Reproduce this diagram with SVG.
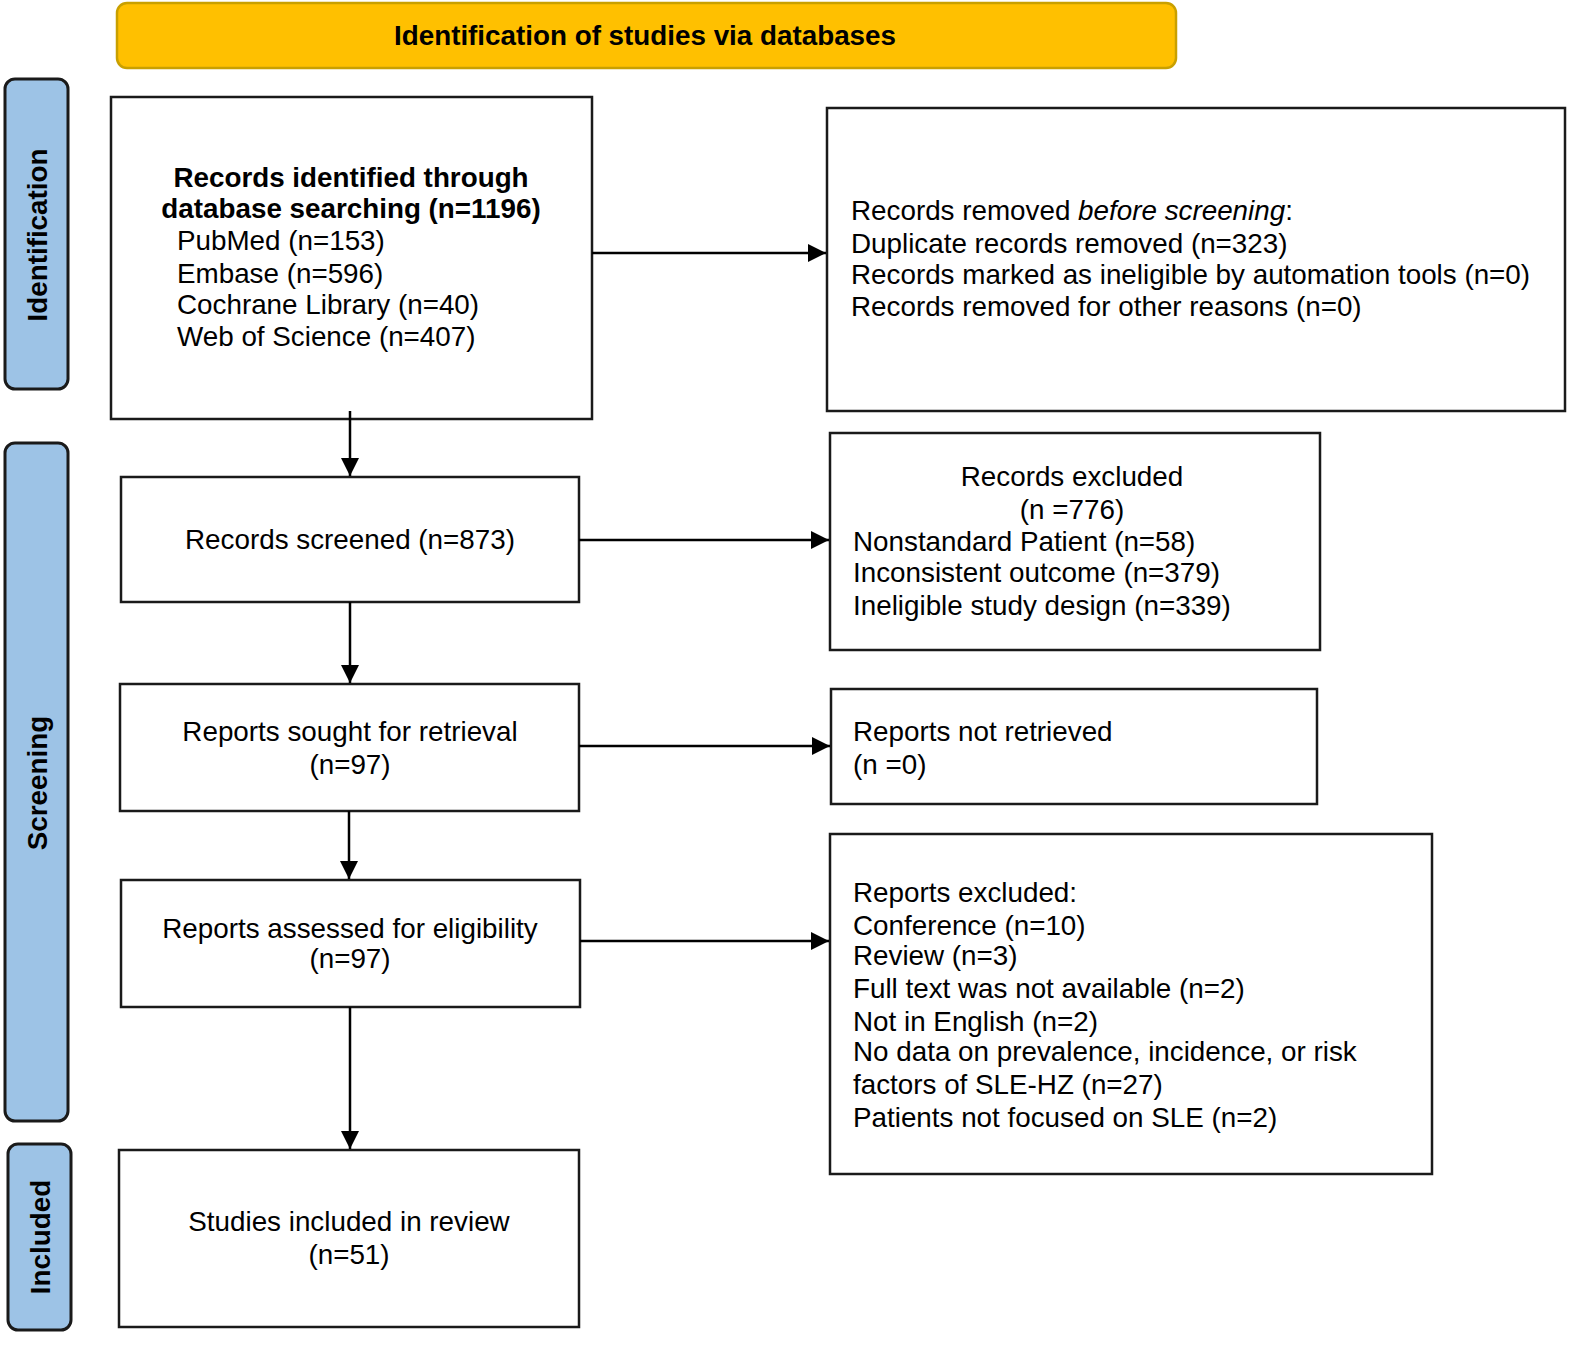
<svg xmlns="http://www.w3.org/2000/svg" width="1594" height="1356" viewBox="0 0 1594 1356">
<defs>
<marker id="arr" viewBox="0 0 10 10" refX="10" refY="5" markerWidth="18" markerHeight="18" markerUnits="userSpaceOnUse" orient="auto">
<path d="M0,0 L10,5 L0,10 z" fill="#000"/>
</marker>
</defs>
<style>
text{font-family:"Liberation Sans",Arial,sans-serif;fill:#000;font-size:27.8px}
.b{font-weight:bold}
.c{text-anchor:middle}
.box{fill:#fff;stroke:#1a1a1a;stroke-width:2.5}
.side{fill:#9DC3E6;stroke:#1a1a1a;stroke-width:3}
.con{stroke:#000;stroke-width:2.5;fill:none;marker-end:url(#arr)}
</style>
<rect width="1594" height="1356" fill="#fff"/>
<g id="header">
<rect x="117" y="3" width="1059" height="65" rx="10" fill="#FFC000" stroke="#C9A000" stroke-width="2.5"/>
<text class="b c" x="645" y="45" font-size="26.5">Identification of studies via databases</text>
</g>
<g id="side-identification">
<rect class="side" x="5" y="79" width="63" height="310" rx="10"/>
<text class="b c" transform="translate(47,235) rotate(-90)" font-size="29">Identification</text>
</g>
<g id="side-screening">
<rect class="side" x="5" y="443" width="63" height="678" rx="10"/>
<text class="b c" transform="translate(47,783) rotate(-90)" font-size="29">Screening</text>
</g>
<g id="side-included">
<rect class="side" x="8" y="1144" width="63" height="186" rx="10"/>
<text class="b c" transform="translate(50,1237) rotate(-90)" font-size="29">Included</text>
</g>
<g id="n-identified">
<rect class="box" x="111" y="97" width="481" height="322"/>
<text class="b c" x="351" y="187">Records identified through</text>
<text class="b c" x="351" y="218">database searching (n=1196)</text>
<text x="177" y="250">PubMed (n=153)</text>
<text x="177" y="283">Embase (n=596)</text>
<text x="177" y="314">Cochrane Library (n=40)</text>
<text x="177" y="346">Web of Science (n=407)</text>
</g>
<g id="n-removed">
<rect class="box" x="827" y="108" width="738" height="303"/>
<text x="851" y="220">Records removed <tspan font-style="italic">before screening</tspan>:</text>
<text x="851" y="253">Duplicate records removed (n=323)</text>
<text x="851" y="284">Records marked as ineligible by automation tools (n=0)</text>
<text x="851" y="316">Records removed for other reasons (n=0)</text>
</g>
<g id="n-screened">
<rect class="box" x="121" y="477" width="458" height="125"/>
<text class="c" x="350" y="549">Records screened (n=873)</text>
</g>
<g id="n-excluded">
<rect class="box" x="830" y="433" width="490" height="217"/>
<text class="c" x="1072" y="486">Records excluded</text>
<text class="c" x="1072" y="519">(n =776)</text>
<text x="853" y="551">Nonstandard Patient (n=58)</text>
<text x="853" y="582">Inconsistent outcome (n=379)</text>
<text x="853" y="615">Ineligible study design (n=339)</text>
</g>
<g id="n-sought">
<rect class="box" x="120" y="684" width="459" height="127"/>
<text class="c" x="350" y="741">Reports sought for retrieval</text>
<text class="c" x="350" y="774">(n=97)</text>
</g>
<g id="n-notretrieved">
<rect class="box" x="831" y="689" width="486" height="115"/>
<text x="853" y="741">Reports not retrieved</text>
<text x="853" y="774">(n =0)</text>
</g>
<g id="n-assessed">
<rect class="box" x="121" y="880" width="459" height="127"/>
<text class="c" x="350" y="938">Reports assessed for eligibility</text>
<text class="c" x="350" y="968">(n=97)</text>
</g>
<g id="n-reportsexcluded">
<rect class="box" x="830" y="834" width="602" height="340"/>
<text x="853" y="902">Reports excluded:</text>
<text x="853" y="935">Conference (n=10)</text>
<text x="853" y="965">Review (n=3)</text>
<text x="853" y="998">Full text was not available (n=2)</text>
<text x="853" y="1031">Not in English (n=2)</text>
<text x="853" y="1061">No data on prevalence, incidence, or risk</text>
<text x="853" y="1094">factors of SLE-HZ (n=27)</text>
<text x="853" y="1127">Patients not focused on SLE (n=2)</text>
</g>
<g id="n-included">
<rect class="box" x="119" y="1150" width="460" height="177"/>
<text class="c" x="349" y="1231">Studies included in review</text>
<text class="c" x="349" y="1264">(n=51)</text>
</g>
<g id="connectors">
<line class="con" x1="350" y1="411" x2="350" y2="476"/>
<line class="con" x1="350" y1="602" x2="350" y2="683"/>
<line class="con" x1="349" y1="811" x2="349" y2="879"/>
<line class="con" x1="350" y1="1007" x2="350" y2="1149"/>
<line class="con" x1="592" y1="253" x2="826" y2="253"/>
<line class="con" x1="579" y1="540" x2="829" y2="540"/>
<line class="con" x1="579" y1="746" x2="830" y2="746"/>
<line class="con" x1="580" y1="941" x2="829" y2="941"/>
</g>
</svg>
